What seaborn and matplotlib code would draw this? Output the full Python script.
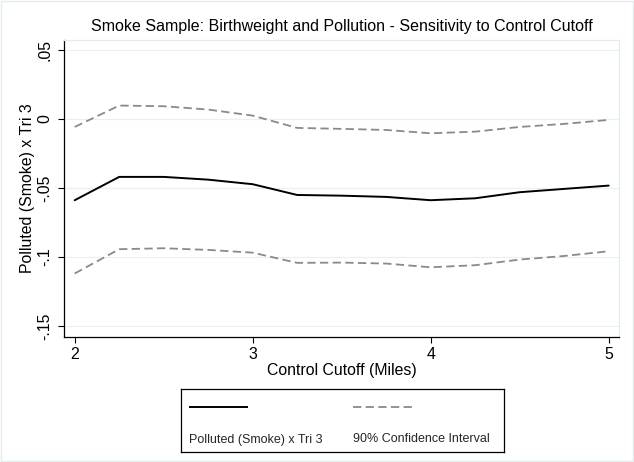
import matplotlib
matplotlib.use("Agg")
import matplotlib.pyplot as plt
import seaborn as sns
import pandas as pd
from matplotlib.patches import Rectangle

# Estimates by control-group cutoff distance
cutoff_miles = [2.0, 2.25, 2.5, 2.75, 3.0, 3.25, 3.5, 3.75, 4.0, 4.25, 4.5, 4.75, 5.0]
coef = [-0.0589, -0.0420, -0.0420, -0.0440, -0.0473, -0.0551, -0.0556,
        -0.0565, -0.0589, -0.0575, -0.0531, -0.0507, -0.0483]
ci_upper = [-0.0058, 0.0097, 0.0092, 0.0068, 0.0024, -0.0065, -0.0072,
            -0.0080, -0.0104, -0.0092, -0.0058, -0.0036, -0.0007]
ci_lower = [-0.1120, -0.0944, -0.0937, -0.0949, -0.0969, -0.1043, -0.1041,
            -0.1048, -0.1075, -0.1060, -0.1019, -0.0993, -0.0959]

x_ticks = [2, 3, 4, 5]
y_ticks = [0.05, 0.0, -0.05, -0.1, -0.15]
y_tick_labels = [".05", "0", "-.05", "-.1", "-.15"]

title = "Smoke Sample: Birthweight and Pollution - Sensitivity to Control Cutoff"
x_title = "Control Cutoff (Miles)"
y_title = "Polluted (Smoke) x Tri 3"
legend_labels = ["Polluted (Smoke) x Tri 3", "90% Confidence Interval"]

df = pd.DataFrame({"cutoff": cutoff_miles, "coef": coef,
                   "upper": ci_upper, "lower": ci_lower})

sns.set_theme(style="white")
plt.rcParams["font.family"] = ["Liberation Sans", "DejaVu Sans"]

W, H = 634, 462
fig = plt.figure(figsize=(W / 100, H / 100), dpi=100)
fig.patch.set_facecolor("white")
fig.add_artist(Rectangle((0.002, 0.002), 0.996, 0.996, transform=fig.transFigure,
                         fill=False, edgecolor="#e3ecef", lw=1.0))

ax_l, ax_r, ax_t, ax_b = 64.3, 619.0, 40.0, 336.7
ax = fig.add_axes([ax_l / W, 1 - ax_b / H, (ax_r - ax_l) / W, (ax_b - ax_t) / H])

DASH_GRAY = "#8a8a8a"
DASH = (0, (4.6, 2.4))

sns.lineplot(data=df, x="cutoff", y="upper", ax=ax, color=DASH_GRAY, lw=1.3)
ax.lines[-1].set_linestyle(DASH)
sns.lineplot(data=df, x="cutoff", y="lower", ax=ax, color=DASH_GRAY, lw=1.3)
ax.lines[-1].set_linestyle(DASH)
sns.lineplot(data=df, x="cutoff", y="coef", ax=ax, color="black", lw=1.4)

ax.set_xlim(1.9416, 5.058)
ax.set_ylim(-0.1578, 0.0572)
ax.set_xticks(x_ticks)
ax.set_xticklabels([str(t) for t in x_ticks])
ax.set_yticks(y_ticks)
ax.set_yticklabels(y_tick_labels, rotation=90, va="center")

ax.yaxis.grid(True, color="#e8f0f2", lw=0.9)
ax.xaxis.grid(False)
ax.set_axisbelow(True)

for side in ("top", "right"):
    ax.spines[side].set_color("#e3ecef")
    ax.spines[side].set_linewidth(0.9)
for side in ("left", "bottom"):
    ax.spines[side].set_color("black")
    ax.spines[side].set_linewidth(0.9)

ax.tick_params(axis="both", which="major", bottom=True, left=True,
               direction="out", length=4.3, width=0.8, color="black",
               labelsize=11.4, labelcolor="black")
ax.tick_params(axis="x", pad=3)
ax.tick_params(axis="y", pad=4.5)

ax.set_xlabel(x_title, fontsize=11.4, color="black")
ax.xaxis.set_label_coords(0.5, (ax_b - 370) / (ax_b - ax_t))
ax.xaxis.label.set_va("center")
ax.set_ylabel(y_title, fontsize=11.4, color="black")
ax.yaxis.set_label_coords((28 - ax_l) / (ax_r - ax_l), 0.5)
ax.yaxis.label.set_va("center")

fig.text((ax_l + ax_r) / 2 / W, 1 - 27 / H, title, ha="center", va="center",
         fontsize=11.5, color="black")

# Legend box below the plot: key samples on top, labels underneath
lg_l, lg_r, lg_t, lg_b = 181.0, 504.0, 389.0, 452.0
lax = fig.add_axes([lg_l / W, 1 - lg_b / H, (lg_r - lg_l) / W, (lg_b - lg_t) / H])
lax.set_xlim(0, 1)
lax.set_ylim(0, 1)
lax.set_xticks([])
lax.set_yticks([])
for s in lax.spines.values():
    s.set_color("black")
    s.set_linewidth(0.9)
lax.set_facecolor("white")

def fx(px):
    return (px - lg_l) / (lg_r - lg_l)

def fy(py):
    return (lg_b - py) / (lg_b - lg_t)

lax.plot([fx(188.7), fx(247.8)], [fy(406.8)] * 2, color="black", lw=1.4,
         solid_capstyle="butt")
key2, = lax.plot([fx(353.0), fx(413.0)], [fy(406.8)] * 2, color=DASH_GRAY, lw=1.3)
key2.set_linestyle(DASH)
lax.text(fx(188.7), fy(439.5), legend_labels[0], fontsize=9.0, va="center", ha="left")
lax.text(fx(353.0), fy(439.5), legend_labels[1], fontsize=9.0, va="center", ha="left")

fig.savefig("out.png", dpi=100)
